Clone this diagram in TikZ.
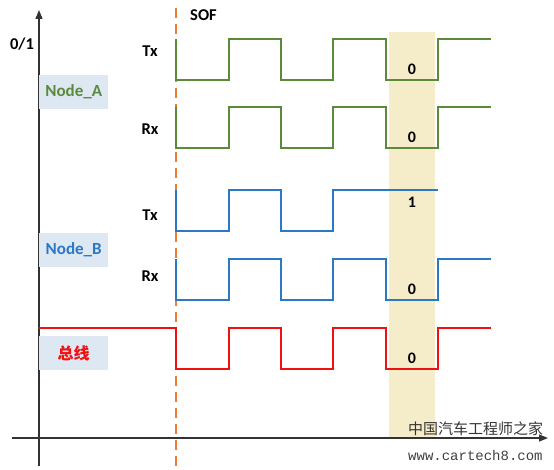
\documentclass[tikz,border=0pt]{standalone}
\usepackage{fontspec}
\setmainfont{Carlito}
\newfontfamily\cjk{Noto Sans CJK SC}
\newfontfamily\wmono{Liberation Mono}
\usetikzlibrary{arrows.meta}
\definecolor{sgreen}{HTML}{5A8A3A}
\definecolor{sblue}{HTML}{2B78C5}
\definecolor{sred}{HTML}{F01010}
\definecolor{sorange}{HTML}{ED7D31}
\definecolor{band}{HTML}{F5ECC9}
\definecolor{lblfill}{HTML}{DEE8F3}
\definecolor{axisc}{HTML}{333333}
\tikzset{
  sig/.style={line width=2pt, line join=miter},
  lbl/.style={font=\bfseries\fontsize{16.5}{18}\selectfont, inner sep=0pt},
  bit/.style={font=\bfseries\fontsize{16}{18}\selectfont, inner sep=0pt},
  namebox/.style={fill=lblfill, minimum width=69pt, minimum height=34pt, inner sep=0pt, font=\bfseries\fontsize{17}{19}\selectfont},
}
\begin{document}
\begin{tikzpicture}[x=1pt,y=-1pt]
\useasboundingbox (0,0) rectangle (554,470);
% band
\fill[band] (389,32) rectangle (435,438);
% axes
\coordinate (yb) at (39,466);
\coordinate (yt) at (39,10);
\coordinate (xl) at (12,438);
\coordinate (xr) at (548,438);
\draw[axisc, line width=1.4pt, -{Triangle[length=9pt,width=7pt]}] (yb) -- (yt);
\draw[axisc, line width=1.2pt, -{Triangle[length=9pt,width=7pt]}] (xl) -- (xr);
% SOF line
\coordinate (s1) at (176,8);
\coordinate (s2) at (176,470);
\draw[sorange, line width=1.4pt, dash pattern=on 10pt off 6pt] (s1) -- (s2);
\node[lbl, anchor=west] (sof) at (190,15) {SOF};
\node[lbl] (zo) at (22,44) {0/1};
% name boxes
\node[namebox, anchor=north west, text=sgreen] (na) at (39,75) {Node\_A};
\node[namebox, anchor=north west, text=sblue] (nb) at (39,233) {Node\_B};
\node[namebox, anchor=north west, text=sred, font=\cjk\bfseries\fontsize{16}{18}\selectfont] (bus) at (39,336) {总线};
% Tx/Rx labels
\node[lbl] (txa) at (150,51) {Tx};
\node[lbl] (rxa) at (150,129) {Rx};
\node[lbl] (txb) at (150,215) {Tx};
\node[lbl] (rxb) at (150,276) {Rx};
% Node A Tx
\draw[sgreen, sig] (176,39) -- (176,80) -- (229,80) -- (229,39) -- (281,39) -- (281,80) -- (333,80) -- (333,39) -- (386,39) -- (386,80) -- (438,80) -- (438,39) -- (491,39);
% Node A Rx
\draw[sgreen, sig] (176,107) -- (176,148) -- (229,148) -- (229,107) -- (281,107) -- (281,148) -- (333,148) -- (333,107) -- (386,107) -- (386,148) -- (438,148) -- (438,107) -- (491,107);
% Node B Tx
\draw[sblue, sig] (176,190) -- (176,231) -- (229,231) -- (229,190) -- (281,190) -- (281,231) -- (333,231) -- (333,190) -- (438,190);
% Node B Rx
\draw[sblue, sig] (176,259) -- (176,300) -- (229,300) -- (229,259) -- (281,259) -- (281,300) -- (333,300) -- (333,259) -- (386,259) -- (386,300) -- (438,300) -- (438,259) -- (491,259);
% Bus
\draw[sred, sig] (39,328) -- (176,328) -- (176,369) -- (229,369) -- (229,328) -- (281,328) -- (281,369) -- (333,369) -- (333,328) -- (386,328) -- (386,369) -- (438,369) -- (438,328) -- (491,328);
% bits
\node[bit] (b1) at (412,69) {0};
\node[bit] (b2) at (412,137) {0};
\node[bit] (b3) at (412,202) {1};
\node[bit] (b4) at (412,289) {0};
\node[bit] (b5) at (412,358) {0};
% watermark
\node[inner sep=0pt, anchor=west, font=\cjk\fontsize{15}{17}\selectfont, text=black!80] (wm1) at (408,429) {中国汽车工程师之家};
\node[inner sep=0pt, anchor=west, font=\wmono\fontsize{14}{16}\selectfont, text=black!75] (wm2) at (408,455) {www.cartech8.com};
\end{tikzpicture}
\end{document}
